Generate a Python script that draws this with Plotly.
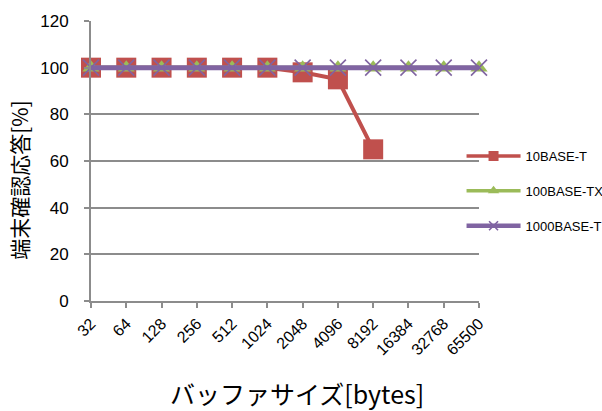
import plotly.graph_objects as go

# Buffer sizes (bytes) and terminal acknowledgement rate (%) per link type
buffer_sizes = ["32", "64", "128", "256", "512", "1024", "2048",
                "4096", "8192", "16384", "32768", "65500"]
rate_10base_t = [100, 100, 100, 100, 100, 100, 98, 95, 65, None, None, None]
rate_100base_tx = [100] * 12
rate_1000base_t = [100] * 12

y_ticks = [0, 20, 40, 60, 80, 100, 120]

RED = "#C0504D"
GREEN = "#9BBB59"
PURPLE = "#8064A2"
GRID = "#8C8C8C"
LATIN = "Arial, Liberation Sans, sans-serif"
CJK = "Noto Sans CJK JP"

series = [
    dict(name="10BASE-T", y=rate_10base_t, color=RED, width=4,
         symbol="square", size=20, legend_size=10, mline=0),
    dict(name="100BASE-TX", y=rate_100base_tx, color=GREEN, width=4,
         symbol="triangle-up", size=15, legend_size=10, mline=0),
    dict(name="1000BASE-T", y=rate_1000base_t, color=PURPLE, width=5,
         symbol="x-thin", size=16, legend_size=9, mline=1.6),
]

fig = go.Figure()

for i, s in enumerate(series):
    fig.add_trace(go.Scatter(
        x=buffer_sizes, y=s["y"], name=s["name"],
        mode="lines+markers", cliponaxis=False, showlegend=False,
        line=dict(color=s["color"], width=s["width"]),
        marker=dict(symbol=s["symbol"], size=s["size"], color=s["color"],
                    line=dict(color=s["color"], width=s["mline"])),
    ))

# Legend entries with smaller marker glyphs
for i, s in enumerate(series):
    fig.add_trace(go.Scatter(
        x=[None], y=[None], name=s["name"],
        mode="lines+markers", showlegend=True, legendgroup=f"g{i}",
        line=dict(color=s["color"], width=s["width"] - 0.5),
        marker=dict(symbol=s["symbol"], size=s["legend_size"], color=s["color"],
                    line=dict(color=s["color"], width=s["mline"])),
    ))

fig.update_layout(
    width=602, height=411,
    margin=dict(l=91, r=123, t=21, b=110, autoexpand=False),
    paper_bgcolor="white", plot_bgcolor="white",
    font=dict(family=LATIN, color="#000000", size=16),
    showlegend=True,
    legend=dict(
        x=0.955, xanchor="left", y=0.393, yanchor="middle",
        font=dict(size=13, family=LATIN),
        itemwidth=54, itemsizing="trace",
        tracegroupgap=15,
        bgcolor="rgba(0,0,0,0)",
    ),
    xaxis=dict(
        type="category",
        range=[0, len(buffer_sizes) - 1],
        tickangle=-45,
        ticks="outside", ticklen=5, tickcolor=GRID, tickwidth=1.5,
        tickmode="array", tickvals=buffer_sizes, ticktext=buffer_sizes,
        showline=True, linecolor=GRID, linewidth=2,
        showgrid=False, zeroline=False,
        tickfont=dict(size=16),
    ),
    yaxis=dict(
        range=[0, 120],
        tickvals=y_ticks,
        ticks="outside", ticklen=5, tickcolor=GRID, tickwidth=1.5,
        showline=True, linecolor=GRID, linewidth=2,
        showgrid=True, gridcolor=GRID, gridwidth=1.5,
        zeroline=False,
        tickfont=dict(size=17),
        ticklabelstandoff=12,
    ),
    annotations=[
        dict(text="バッファサイズ[bytes]", xref="paper", yref="paper",
             x=0.53, y=-0.328, xanchor="center", yanchor="middle",
             showarrow=False, font=dict(size=25, family=CJK)),
        dict(text="端末確認応答[%]", xref="paper", yref="paper",
             x=-0.186, y=0.432, xanchor="center", yanchor="middle",
             textangle=-90, showarrow=False, font=dict(size=21, family=CJK)),
    ],
)

fig.write_html("out.html")
